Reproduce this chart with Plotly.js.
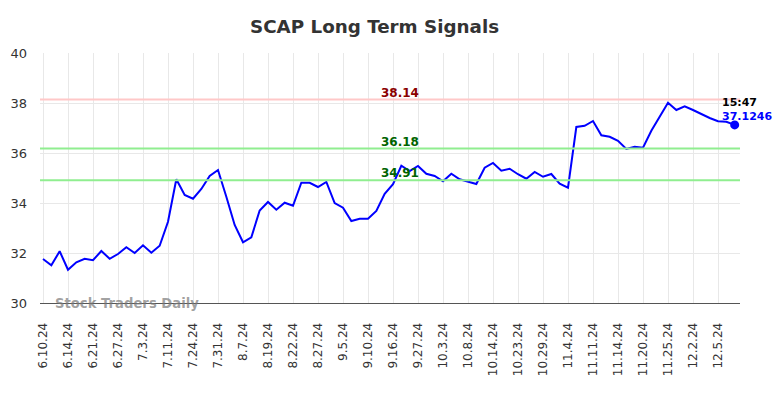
<!DOCTYPE html>
<html>
<head>
<meta charset="utf-8">
<script src="https://cdn.plot.ly/plotly-3.0.1.min.js"></script>
<style>html,body{margin:0;padding:0;background:#fff;}#chart{width:784px;height:398px;}</style>
</head>
<body>
<div id="chart"></div>
<script>
const dates = ["6.10.24","6.11.24","6.12.24","6.14.24","6.17.24","6.18.24","6.21.24","6.24.24","6.26.24","6.27.24","6.28.24","7.1.24","7.3.24","7.5.24","7.9.24","7.11.24","7.16.24","7.22.24","7.24.24","7.26.24","7.29.24","7.31.24","8.2.24","8.5.24","8.7.24","8.13.24","8.15.24","8.19.24","8.20.24","8.21.24","8.22.24","8.23.24","8.26.24","8.27.24","8.29.24","9.3.24","9.5.24","9.6.24","9.9.24","9.10.24","9.12.24","9.13.24","9.16.24","9.19.24","9.24.24","9.27.24","10.1.24","10.2.24","10.3.24","10.4.24","10.7.24","10.8.24","10.10.24","10.11.24","10.14.24","10.17.24","10.21.24","10.23.24","10.25.24","10.28.24","10.29.24","10.30.24","11.1.24","11.4.24","11.6.24","11.8.24","11.11.24","11.12.24","11.13.24","11.14.24","11.18.24","11.19.24","11.20.24","11.21.24","11.22.24","11.25.24","11.26.24","11.27.24","12.2.24","12.3.24","12.4.24","12.5.24","12.6.24","12.9.24"];
const prices = [31.76,31.51,32.07,31.33,31.63,31.77,31.71,32.08,31.77,31.96,32.23,32.0,32.31,32.01,32.29,33.25,34.95,34.32,34.17,34.56,35.08,35.32,34.25,33.12,32.43,32.63,33.70,34.04,33.73,34.01,33.89,34.81,34.81,34.64,34.84,34.00,33.81,33.28,33.37,33.37,33.68,34.37,34.75,35.49,35.28,35.48,35.17,35.08,34.87,35.17,34.95,34.85,34.76,35.41,35.60,35.29,35.37,35.15,34.97,35.24,35.05,35.16,34.77,34.61,37.04,37.09,37.28,36.71,36.65,36.49,36.16,36.25,36.21,36.89,37.48,38.01,37.72,37.87,37.72,37.55,37.40,37.27,37.25,37.1246];
const tickLabels = ["6.10.24","6.14.24","6.21.24","6.27.24","7.3.24","7.11.24","7.24.24","7.31.24","8.7.24","8.19.24","8.22.24","8.27.24","9.5.24","9.10.24","9.16.24","9.27.24","10.3.24","10.8.24","10.14.24","10.23.24","10.29.24","11.4.24","11.11.24","11.14.24","11.20.24","11.25.24","12.2.24","12.5.24"];
const signalLevels = [38.14, 36.18, 34.91];
const signalLabels = ["38.14", "36.18", "34.91"];
const lastTime = "15:47";
const lastLabel = "37.1246";

const F = "DejaVu Sans, sans-serif";
const lineColors = ["#ffc8c8", "#90ee90", "#90ee90"];
const textColors = ["#8b0000", "#006400", "#006400"];

const shapes = signalLevels.map((v, i) => ({
  type: "line", xref: "paper", x0: 0, x1: 1, yref: "y", y0: v, y1: v,
  line: {color: lineColors[i], width: 2}, layer: "above"
}));

const annotations = signalLevels.map((v, i) => ({
  xref: "paper", x: 0.514, yref: "y", y: v, yanchor: "bottom", xanchor: "center",
  yshift: -2,
  text: "<b>" + signalLabels[i] + "</b>", showarrow: false,
  font: {family: F, size: 12, color: textColors[i]}
}));
const lastIdx = prices.length - 1;
annotations.push({
  xref: "x", x: lastIdx, yref: "y", y: prices[lastIdx], xanchor: "left", yanchor: "middle",
  xshift: -15, yshift: 22, text: "<b>" + lastTime + "</b>", showarrow: false,
  font: {family: F, size: 11, color: "#000"}
});
annotations.push({
  xref: "x", x: lastIdx, yref: "y", y: prices[lastIdx], xanchor: "left", yanchor: "middle",
  xshift: -15, yshift: 8, text: "<b>" + lastLabel + "</b>", showarrow: false,
  font: {family: F, size: 11, color: "#0000ff"}
});
annotations.push({
  xref: "paper", x: 0.018, yref: "paper", y: 0.0, xanchor: "left", yanchor: "middle",
  text: "<b>Stock Traders Daily</b>", showarrow: false,
  font: {family: F, size: 13.2, color: "rgba(120,120,120,0.7)"}
});

const tickvals = tickLabels.map(t => dates.indexOf(t));

const traces = [
  {x: dates, y: prices, type: "scatter", mode: "lines",
   line: {color: "#0000ff", width: 2}, hoverinfo: "skip"},
  {x: [dates[lastIdx]], y: [prices[lastIdx]], type: "scatter", mode: "markers",
   marker: {color: "#0000ff", size: 9}, hoverinfo: "skip"}
];

const layout = {
  width: 784, height: 398,
  margin: {l: 40, r: 44, t: 53, b: 95},
  paper_bgcolor: "#fff", plot_bgcolor: "#fff",
  showlegend: false,
  title: {text: "<b>SCAP Long Term Signals</b>", xref: "container", x: 0.4777, xanchor: "center", y: 0.934, yanchor: "middle",
          font: {family: F, size: 18.3, color: "#333"}},
  xaxis: {
    type: "category", range: [-0.36, 83.64],
    tickmode: "array", tickvals: tickvals, ticktext: tickLabels,
    tickangle: -90, tickfont: {family: F, size: 12, color: "#333"},
    showgrid: true, gridcolor: "#e8e8e8", gridwidth: 1,
    showline: true, linecolor: "#555", linewidth: 1,
    ticks: "", ticklabelstandoff: 14, zeroline: false, fixedrange: true
  },
  yaxis: {
    range: [30, 40], tickvals: [30, 32, 34, 36, 38, 40],
    tickfont: {family: F, size: 13, color: "#333"},
    showgrid: true, gridcolor: "#e8e8e8", gridwidth: 1,
    showline: false, zeroline: false, ticks: "", ticklabelstandoff: 12, fixedrange: true
  },
  shapes: shapes,
  annotations: annotations
};

Plotly.newPlot("chart", traces, layout, {displayModeBar: false, staticPlot: true});
</script>
</body>
</html>
